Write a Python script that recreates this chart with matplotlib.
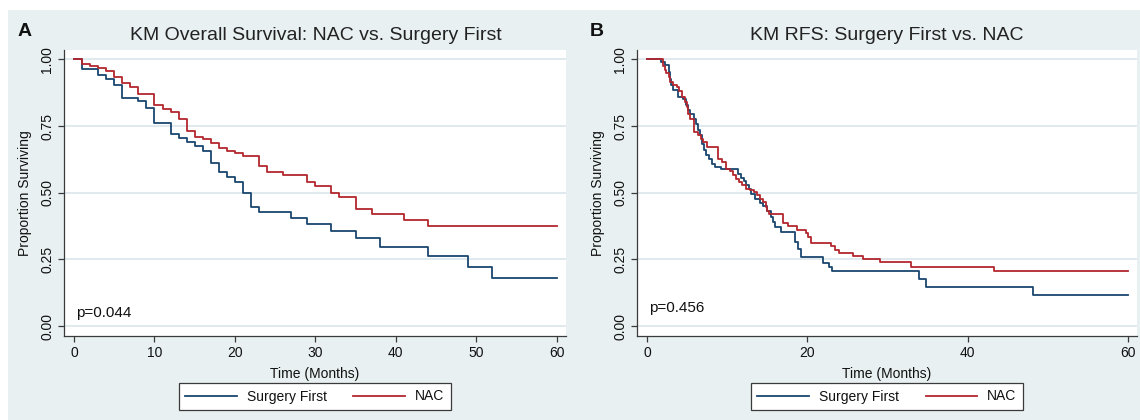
import matplotlib
matplotlib.use('Agg')
import matplotlib.pyplot as plt
from matplotlib.patches import Rectangle

plt.rcParams['font.family'] = ['Liberation Sans', 'DejaVu Sans']

# ---------------- data ----------------
# Panel A: Overall survival
os_sf_t = [0, 1, 3, 4, 5, 6, 8, 9, 10, 12, 13, 14, 15, 16, 17, 18, 19, 20, 21, 22, 23,
           27, 29, 32, 35, 38, 44, 49, 52, 60]
os_sf_s = [1.0, 0.962, 0.94, 0.926, 0.904, 0.856, 0.844, 0.816, 0.76, 0.719, 0.706, 0.69,
           0.676, 0.657, 0.61, 0.576, 0.56, 0.539, 0.50, 0.445, 0.426, 0.404, 0.383, 0.356,
           0.329, 0.298, 0.263, 0.223, 0.181, 0.181]
os_nac_t = [0, 1, 2, 3, 4, 5, 6, 7, 8, 10, 11, 12, 13, 14, 15, 16, 17, 18, 19, 20, 21, 23,
            24, 26, 29, 30, 32, 33, 35, 37, 41, 44, 60]
os_nac_s = [1.0, 0.982, 0.975, 0.969, 0.957, 0.932, 0.912, 0.898, 0.87, 0.829, 0.813, 0.804,
            0.775, 0.733, 0.71, 0.70, 0.685, 0.666, 0.658, 0.648, 0.639, 0.601, 0.576, 0.566,
            0.539, 0.525, 0.50, 0.485, 0.438, 0.419, 0.398, 0.376, 0.376]

# Panel B: Recurrence-free survival
rfs_sf_t = [0, 1.8, 2.2, 2.7, 2.85, 3.0, 3.2, 3.9, 4.5, 4.9, 5.1, 5.4, 5.8, 6.1, 6.3, 6.6,
            6.9, 7.1, 7.3, 7.7, 8.1, 8.5, 9.2, 11.3, 11.7, 12.1, 12.4, 12.7, 13.0, 13.5, 14.1,
            14.5, 15.0, 15.4, 15.7, 16.0, 16.7, 18.5, 18.8, 19.2, 22.0, 22.7, 23.1, 33.9, 34.8,
            48.1, 60]
rfs_sf_s = [1.0, 0.99, 0.98, 0.952, 0.927, 0.902, 0.884, 0.859, 0.852, 0.827, 0.809, 0.796,
            0.777, 0.759, 0.734, 0.715, 0.684, 0.659, 0.64, 0.625, 0.609, 0.596, 0.59, 0.571,
            0.555, 0.542, 0.527, 0.515, 0.496, 0.477, 0.462, 0.45, 0.43, 0.409, 0.39, 0.371,
            0.352, 0.316, 0.29, 0.26, 0.237, 0.222, 0.207, 0.175, 0.145, 0.115, 0.115]
rfs_nac_t = [0, 2.0, 2.2, 2.4, 2.7, 2.9, 3.2, 3.7, 4.0, 4.4, 4.7, 5.0, 5.1, 5.4, 5.8, 5.9,
             6.3, 6.7, 7.0, 7.5, 8.8, 9.3, 9.9, 10.3, 10.7, 11.1, 11.5, 11.9, 12.4, 12.9, 13.3,
             13.7, 14.1, 14.5, 14.8, 15.0, 15.2, 16.9, 17.6, 18.7, 19.8, 20.1, 20.4, 22.9, 23.5,
             23.9, 25.7, 26.9, 29.0, 32.9, 43.3, 60]
rfs_nac_s = [1.0, 0.975, 0.959, 0.95, 0.934, 0.915, 0.902, 0.896, 0.88, 0.859, 0.84, 0.821,
             0.796, 0.777, 0.752, 0.727, 0.715, 0.702, 0.69, 0.671, 0.627, 0.615, 0.59, 0.58,
             0.565, 0.552, 0.54, 0.527, 0.515, 0.509, 0.502, 0.492, 0.477, 0.465, 0.446, 0.43,
             0.42, 0.385, 0.375, 0.36, 0.35, 0.335, 0.312, 0.30, 0.285, 0.275, 0.262, 0.25,
             0.24, 0.22, 0.205, 0.205]

series_labels = ['Surgery First', 'NAC']
titles = ['KM Overall Survival: NAC vs. Surgery First', 'KM RFS: Surgery First vs. NAC']
panel_letters = ['A', 'B']
p_values = ['p=0.044', 'p=0.456']
xticks_a = [0, 10, 20, 30, 40, 50, 60]
xticks_b = [0, 20, 40, 60]
yticks = [0, 0.25, 0.5, 0.75, 1.0]
ytick_labels = ['0.00', '0.25', '0.50', '0.75', '1.00']

# ---------------- style ----------------
W, H = 1140, 420
BG = '#e8f0f2'
GRID = '#dde8ed'
BLUE = '#1a476f'
RED = '#b3262e'
AX = '#3a3a3a'

fig = plt.figure(figsize=(W / 100, H / 100), dpi=100)
fig.patches.append(Rectangle((8 / W, 0), 1 - 8 / W, 1 - 10 / H, transform=fig.transFigure,
                             facecolor=BG, edgecolor='none', zorder=-10))


def panel(x0, x1, data, xticks, title, letter, ptxt, p_y, title_cx, letter_x):
    top, bot = 50, 336
    ax = fig.add_axes([x0 / W, 1 - bot / H, (x1 - x0) / W, (bot - top) / H])
    ax.set_facecolor('white')
    handles = []
    for (t, s), c, lbl in zip(data, [BLUE, RED], series_labels):
        h, = ax.step(t, s, where='post', color=c, lw=1.3, label=lbl, zorder=3)
        handles.append(h)
    ax.set_xlim(-1.25, 61.1)
    ax.set_ylim(-0.0375, 1.035)
    ax.set_yticks(yticks)
    ax.set_yticklabels(ytick_labels, rotation=90, va='center')
    ax.set_xticks(xticks)
    ax.yaxis.grid(True, color=GRID, lw=1.3)
    ax.set_axisbelow(True)
    for sp in ['top', 'right']:
        ax.spines[sp].set_visible(False)
    for sp in ['left', 'bottom']:
        ax.spines[sp].set_color(AX)
        ax.spines[sp].set_linewidth(0.9)
    ax.tick_params(direction='out', length=4, width=0.9, color=AX, labelsize=10,
                   labelcolor='#111111', pad=3)
    ax.set_xlabel('Time (Months)', fontsize=10, labelpad=5, color='#111111')
    ax.set_ylabel('Proportion Surviving', fontsize=10, labelpad=6, color='#111111')
    ax.text(0.2, p_y, ptxt, fontsize=11, ha='left', va='center', color='#111111')
    fig.text(title_cx / W, 1 - 35 / H, title, fontsize=14, ha='center', va='center',
             color='#222222')
    fig.text(letter_x / W, 1 - 32 / H, letter, fontsize=14, fontweight='bold',
             ha='left', va='center', color='#111111')
    leg = ax.legend(handles=handles, loc='center',
                    bbox_to_anchor=(((x0 + x1) / 2) / W, 1 - 396.5 / H),
                    bbox_transform=fig.transFigure, ncol=2, frameon=True, fancybox=False,
                    edgecolor=AX, facecolor='white', handlelength=3.7, columnspacing=1.9,
                    handletextpad=0.75, borderpad=0.45, fontsize=10, framealpha=1)
    leg.get_frame().set_linewidth(0.9)
    for txt in leg.get_texts():
        txt.set_color('#111111')
    return ax


panel(64, 565.5, [(os_sf_t, os_sf_s), (os_nac_t, os_nac_s)], xticks_a, titles[0],
      panel_letters[0], p_values[0], 0.05, 315.5, 18)
panel(637, 1137, [(rfs_sf_t, rfs_sf_s), (rfs_nac_t, rfs_nac_s)], xticks_b, titles[1],
      panel_letters[1], p_values[1], 0.069, 887, 590)

fig.savefig('out.png', dpi=100, facecolor='white')
